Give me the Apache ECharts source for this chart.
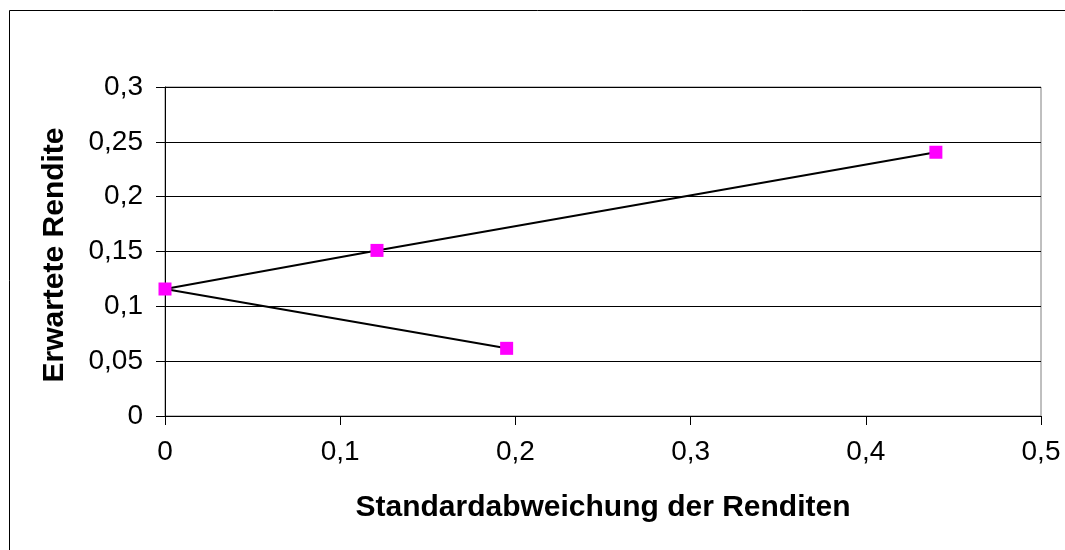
<!DOCTYPE html>
<html>
<head>
<meta charset="utf-8">
<script src="https://cdn.jsdelivr.net/npm/echarts@6/dist/echarts.min.js"></script>
<style>html,body{margin:0;padding:0;background:#fff;}#c{width:1065px;height:550px;}</style>
</head>
<body>
<div id="c"></div>
<script>
var stdDev = [0.44, 0.121, 0, 0.195];
var expReturn = [0.2405, 0.151, 0.1158, 0.0617];
var xTitle = 'Standardabweichung der Renditen';
var yTitle = 'Erwartete Rendite';

var fmt = function (v) { return String(Math.round(v * 1000) / 1000).replace('.', ','); };
var chart = echarts.init(document.getElementById('c'));
var pts = stdDev.map(function (x, i) { return [x, expReturn[i]]; });
chart.setOption({
  animation: false,
  backgroundColor: '#fff',
  grid: { left: 165, top: 87, width: 876, height: 329, show: true, borderColor: '#808080', borderWidth: 1, backgroundColor: 'transparent' },
  xAxis: {
    type: 'value', min: 0, max: 0.5, interval: 0.1,
    axisLine: { show: true, onZero: false, lineStyle: { color: '#000', width: 1 } },
    axisTick: { show: true, inside: false, length: 9, lineStyle: { color: '#000' } },
    axisLabel: { formatter: fmt, color: '#000', fontFamily: 'Liberation Sans', fontSize: 28, margin: 22 },
    splitLine: { show: false }
  },
  yAxis: {
    type: 'value', min: 0, max: 0.3, interval: 0.05,
    axisLine: { show: true, onZero: false, lineStyle: { color: '#000', width: 1 } },
    axisTick: { show: true, inside: false, length: 9, lineStyle: { color: '#000' } },
    axisLabel: { formatter: fmt, color: '#000', fontFamily: 'Liberation Sans', fontSize: 28, margin: 22 },
    splitLine: { show: true, lineStyle: { color: '#000', width: 1 } }
  },
  graphic: [
    { type: 'rect', shape: { x: 9.5, y: 10.5, width: 1070, height: 560 }, style: { fill: 'none', stroke: '#000', lineWidth: 1 }, silent: true, z: 100 },
    { type: 'text', x: 603, y: 508, style: { text: xTitle, font: 'bold 30px "Liberation Sans"', fill: '#000', align: 'center', verticalAlign: 'middle' } },
    { type: 'text', x: 55, y: 255, rotation: Math.PI / 2, style: { text: yTitle, font: 'bold 30px "Liberation Sans"', fill: '#000', align: 'center', verticalAlign: 'middle' } }
  ],
  series: [{
    type: 'line',
    data: pts,
    symbol: 'rect', symbolSize: 13,
    itemStyle: { color: '#FF00FF' },
    lineStyle: { color: '#000', width: 2 },
    z: 5
  }]
});
</script>
</body>
</html>
